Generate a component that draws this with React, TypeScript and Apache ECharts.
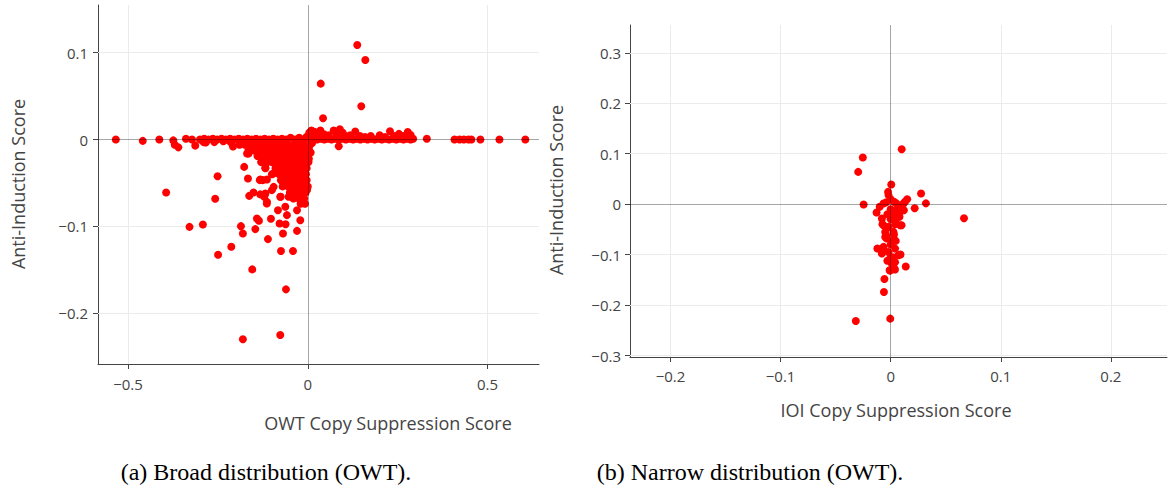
import React, { useEffect, useRef } from 'react';
import * as echarts from 'echarts';

// ---------- axis ticks / ranges ----------
const owtXTicks = [-0.5, 0, 0.5];
const owtYTicks = [-0.2, -0.1, 0, 0.1];
const ioiXTicks = [-0.2, -0.1, 0, 0.1, 0.2];
const ioiYTicks = [-0.3, -0.2, -0.1, 0, 0.1, 0.2, 0.3];
const owtXRange = [-0.5835, 0.643];
const owtYRange = [-0.2586, 0.155];
const ioiXRange = [-0.2368, 0.251];
const ioiYRange = [-0.3027, 0.355];

// ---------- OWT (left) points ----------
const owtBandLeft: number[][] = [
  [-0.534, 0], [-0.459, -0.0015], [-0.413, 0], [-0.374, -0.001], [-0.339, 0.001], [-0.322, 0],
  [-0.300, 0], [-0.288, 0.001], [-0.276, 0], [-0.264, 0.001], [-0.252, 0], [-0.240, 0.001],
  [-0.228, 0], [-0.216, 0.001], [-0.204, 0], [-0.192, 0.001], [-0.180, 0], [-0.168, 0.001],
  [-0.156, 0], [-0.144, 0.001], [-0.132, 0], [-0.120, 0.001], [-0.108, 0], [-0.096, 0.001],
  [-0.084, 0], [-0.072, 0.001], [-0.060, 0], [-0.048, 0.002], [-0.036, 0], [-0.024, 0.002],
  [-0.012, 0], [-0.004, 0.003],
  [-0.37, -0.006], [-0.36, -0.009], [-0.313, -0.007], [-0.29, -0.003], [-0.284, -0.0035],
  [-0.26, -0.003], [-0.235, -0.002], [-0.208, -0.008], [-0.215, -0.003],
];

const owtBandRight: number[][] = [
  [0.006, 0], [0.016, 0.001], [0.026, 0], [0.036, 0.001], [0.046, 0], [0.056, 0.001],
  [0.066, 0], [0.076, 0.001], [0.086, 0], [0.096, 0.001], [0.106, 0], [0.116, 0.001],
  [0.126, 0], [0.136, 0.001], [0.146, 0], [0.156, 0.001], [0.166, 0], [0.176, 0.001],
  [0.186, 0], [0.196, 0.001], [0.206, 0], [0.216, 0.001], [0.226, 0], [0.236, 0.001],
  [0.246, 0], [0.256, 0.001], [0.266, 0], [0.276, 0.001], [0.286, 0], [0.293, 0.001],
  [0.331, 0.001], [0.408, 0], [0.422, 0], [0.434, 0], [0.447, 0], [0.455, 0], [0.48, 0],
  [0.533, 0], [0.605, 0],
];

const owtRise: number[][] = [
  [0.004, 0.008], [0.01, 0.0105], [0.018, 0.009], [0.026, 0.007], [0.035, 0.0105], [0.045, 0.006],
  [0.058, 0.005], [0.072, 0.0105], [0.08, 0.006], [0.089, 0.0118], [0.097, 0.008], [0.105, 0.004],
  [0.118, 0.005], [0.132, 0.0092], [0.145, 0.004], [0.159, 0.003], [0.175, 0.004], [0.2, 0.005],
  [0.215, 0.003], [0.2286, 0.0095], [0.24, 0.004], [0.2535, 0.0065], [0.265, 0.004], [0.278, 0.0087],
  [0.286, 0.0052], [0.086, -0.0077], [0.012, -0.004], [0.004, -0.008], [0.008, -0.015],
  [0.003, -0.022], [0.002, 0.004],
  [0.1375, 0.109], [0.16, 0.0916], [0.036, 0.0644], [0.1487, 0.0383], [0.0424, 0.0245],
];

const owtWedge: number[][] = [
  [-0.19, -0.006], [-0.175, -0.006], [-0.16, -0.006], [-0.145, -0.006], [-0.13, -0.006], [-0.115, -0.006],
  [-0.1, -0.006], [-0.085, -0.006], [-0.07, -0.006], [-0.055, -0.006], [-0.04, -0.006], [-0.025, -0.006],
  [-0.01, -0.006],
  [-0.165, -0.012], [-0.15, -0.012], [-0.135, -0.012], [-0.12, -0.012], [-0.105, -0.012], [-0.09, -0.012],
  [-0.075, -0.012], [-0.06, -0.012], [-0.045, -0.012], [-0.03, -0.012], [-0.015, -0.012], [-0.002, -0.012],
  [-0.14, -0.019], [-0.125, -0.019], [-0.11, -0.019], [-0.095, -0.019], [-0.08, -0.019], [-0.065, -0.019],
  [-0.05, -0.019], [-0.035, -0.019], [-0.02, -0.019], [-0.005, -0.019],
  [-0.13, -0.026], [-0.112, -0.026], [-0.1, -0.026], [-0.085, -0.026], [-0.07, -0.026], [-0.055, -0.026],
  [-0.04, -0.026], [-0.025, -0.026], [-0.01, -0.026], [0.002, -0.026],
  [-0.118, -0.033], [-0.09, -0.033], [-0.075, -0.033], [-0.06, -0.033], [-0.045, -0.033], [-0.03, -0.033],
  [-0.015, -0.033], [-0.003, -0.033],
  [-0.1, -0.04], [-0.08, -0.04], [-0.065, -0.04], [-0.05, -0.04], [-0.035, -0.04], [-0.02, -0.04], [-0.005, -0.04],
  [-0.075, -0.047], [-0.06, -0.047], [-0.045, -0.047], [-0.03, -0.047], [-0.015, -0.047], [-0.003, -0.047],
  [-0.07, -0.054], [-0.055, -0.054], [-0.04, -0.054], [-0.025, -0.054], [-0.01, -0.054], [0, -0.054],
  [-0.05, -0.061], [-0.035, -0.061], [-0.02, -0.061], [-0.006, -0.061], [-0.002, -0.058],
  [-0.04, -0.068], [-0.025, -0.068], [-0.01, -0.068],
  [-0.02, -0.074], [-0.008, -0.074], [-0.014, -0.0698],
];

const owtScatter: number[][] = [
  [-0.394, -0.061], [-0.251, -0.0422], [-0.2575, -0.0683], [-0.329, -0.1006], [-0.2918, -0.0978],
  [-0.2495, -0.1328], [-0.2128, -0.1236], [-0.177, -0.0315], [-0.1665, -0.0449], [-0.163, -0.0649],
  [-0.151, -0.061], [-0.186, -0.0998], [-0.1805, -0.1082], [-0.146, -0.1032], [-0.1545, -0.1496],
  [-0.1805, -0.2301], [-0.0766, -0.2252], [-0.0607, -0.1726], [-0.0746, -0.1285], [-0.0412, -0.1285],
  [-0.1108, -0.1147], [-0.1414, -0.0909], [-0.1359, -0.0936], [-0.1025, -0.0913], [-0.0785, -0.0967],
  [-0.0618, -0.0975], [-0.069, -0.1082], [-0.083, -0.0814], [-0.0626, -0.0775], [-0.058, -0.0871],
  [-0.03, -0.1052], [-0.0209, -0.0929], [-0.03, -0.0814], [-0.016, -0.0698], [-0.114, -0.0737],
  [-0.121, -0.066], [-0.132, -0.0632], [-0.1136, -0.0718], [-0.1, -0.0583], [-0.125, -0.0468],
  [-0.1335, -0.0468], [-0.132, -0.046], [-0.1136, -0.046], [-0.118, -0.0326], [-0.0955, -0.0391],
  [-0.0755, -0.066], [-0.0534, -0.066], [-0.0766, -0.066], [-0.095, -0.0545], [-0.118, -0.0621],
  [-0.165, -0.0161], [-0.1346, -0.0184], [-0.12, -0.0203], [-0.1497, -0.0127], [-0.169, -0.0161],
];

// ---------- IOI (right) points ----------
const ioiOutliers: number[][] = [
  [0.01, 0.109], [-0.0253, 0.0926], [-0.0295, 0.064], [0.0005, 0.039], [-0.0024, 0.0244],
  [0.0276, 0.0212], [0.032, 0.0017], [-0.0246, -0.0006], [0.015, 0.0099], [0.0218, -0.0079],
  [0.0666, -0.0278], [-0.0128, -0.0165], [-0.0075, -0.0397], [0.0099, -0.0416], [0.0046, -0.0727],
  [-0.0121, -0.0879], [-0.0063, -0.0912], [0.0089, -0.0998], [0.0137, -0.1233], [-0.0005, -0.1316],
  [0.0039, -0.1292], [-0.0057, -0.1483], [-0.0061, -0.1738], [-0.0317, -0.2313], [-0.0004, -0.2267],
];

const ioiCluster: number[][] = [
  [0.0116, 0.0013], [-0.0065, 0.0013], [0.0071, -0.0053], [0.0086, -0.0152], [-0.008, -0.0284],
  [-0.0065, -0.0416], [0.0086, -0.0416], [-0.005, -0.0549], [0.0025, -0.0549], [-0.0035, -0.068],
  [0.0025, -0.0714], [-0.0065, -0.0846], [-0.008, -0.0978], [0.0071, -0.1011], [-0.0005, -0.1077],
  [0.001, -0.1176], [-0.001, -0.1309], [0.0032, -0.1275],
  [0, 0.01], [-0.002, 0.018], [0.003, 0.005], [-0.004, 0.004], [0.005, 0.002], [0, -0.01],
  [0.003, -0.02], [-0.003, -0.02], [0, -0.03], [0.005, -0.03], [-0.002, -0.045], [0.003, -0.06],
  [-0.004, -0.062], [0, -0.08], [0.004, -0.088], [-0.002, -0.095], [0.002, -0.105], [-0.003, -0.112],
  [0.004, -0.115], [0.006, -0.01], [0.01, -0.005], [0.013, 0.005], [-0.01, -0.005], [0.008, -0.025],
  [-0.005, -0.065], [0.004, -0.04], [-0.009, -0.09], [0.012, -0.012],
];

const fmt = (v: number) => (v < 0 ? '\u2212' + String(Math.abs(v)) : String(v));

const TICK = '#444';
const FONT = 'Open Sans';

function axis(gridIndex: number, range: number[], ticks: number[], margin: number) {
  return {
    type: 'value',
    gridIndex,
    min: range[0],
    max: range[1],
    axisLine: { show: true, onZero: false, lineStyle: { color: TICK, width: 1 } },
    axisTick: { show: true, length: 5, customValues: ticks, lineStyle: { color: TICK, width: 1 } },
    axisLabel: { customValues: ticks, formatter: fmt, color: TICK, fontSize: 15, fontFamily: FONT, margin },
    splitLine: { show: false },
  };
}

function gridSeries(idx: number, xt: number[], yt: number[]) {
  return {
    type: 'scatter',
    xAxisIndex: idx,
    yAxisIndex: idx,
    data: [],
    silent: true,
    z: 1,
    markLine: {
      z: 1,
      silent: true,
      symbol: ['none', 'none'],
      label: { show: false },
      lineStyle: { color: '#ebebeb', type: 'solid', width: 1 },
      data: [
        ...xt.filter((v) => v !== 0).map((v) => ({ xAxis: v })),
        ...yt.filter((v) => v !== 0).map((v) => ({ yAxis: v })),
      ],
    },
  };
}

function zeroSeries(idx: number) {
  return {
    type: 'scatter',
    xAxisIndex: idx,
    yAxisIndex: idx,
    data: [],
    silent: true,
    z: 5,
    markLine: {
      z: 6,
      silent: true,
      symbol: ['none', 'none'],
      label: { show: false },
      lineStyle: { color: 'rgba(0,0,0,0.35)', type: 'solid', width: 1 },
      data: [{ xAxis: 0 }, { yAxis: 0 }],
    },
  };
}

function dataSeries(idx: number, data: number[][]) {
  return {
    type: 'scatter',
    xAxisIndex: idx,
    yAxisIndex: idx,
    data,
    symbol: 'circle',
    symbolSize: 8,
    z: 3,
    itemStyle: { color: '#ff0000', opacity: 1 },
  };
}

const titleStyle = (text: string) => ({
  text,
  fill: '#444',
  fontSize: 18,
  fontFamily: FONT,
  align: 'center',
  verticalAlign: 'middle',
});

const capStyle = (text: string) => ({
  text,
  fill: '#000',
  fontSize: 24,
  fontFamily: 'Liberation Serif',
  align: 'center',
  verticalAlign: 'middle',
});

export default function App() {
  const ref = useRef<HTMLDivElement>(null);
  useEffect(() => {
    if (!ref.current) return;
    const chart = echarts.init(ref.current, null, { renderer: 'svg' });
    const owtAll = [...owtBandLeft, ...owtBandRight, ...owtRise, ...owtWedge, ...owtScatter];
    const ioiAll = [...ioiOutliers, ...ioiCluster];
    chart.setOption({
      animation: false,
      backgroundColor: '#fff',
      grid: [
        { left: 98, top: 5, width: 441, height: 359 },
        { left: 630, top: 25, width: 537, height: 332 },
      ],
      xAxis: [axis(0, owtXRange, owtXTicks, 12), axis(1, ioiXRange, ioiXTicks, 11)],
      yAxis: [axis(0, owtYRange, owtYTicks, 10), axis(1, ioiYRange, ioiYTicks, 9)],
      series: [
        gridSeries(0, owtXTicks, owtYTicks),
        gridSeries(1, ioiXTicks, ioiYTicks),
        dataSeries(0, owtAll),
        dataSeries(1, ioiAll),
        zeroSeries(0),
        zeroSeries(1),
      ],
      graphic: [
        { type: 'text', x: 388, y: 423, style: titleStyle('OWT Copy Suppression Score') },
        { type: 'text', x: 896, y: 410, style: titleStyle('IOI Copy Suppression Score') },
        { type: 'text', x: 18, y: 184, rotation: Math.PI / 2, style: titleStyle('Anti-Induction Score') },
        { type: 'text', x: 556, y: 190, rotation: Math.PI / 2, style: titleStyle('Anti-Induction Score') },
        { type: 'text', x: 266, y: 472, style: capStyle('(a) Broad distribution (OWT).') },
        { type: 'text', x: 750, y: 472, style: capStyle('(b) Narrow distribution (OWT).') },
      ],
    });
    return () => chart.dispose();
  }, []);
  return (
    <div
      ref={ref}
      style={{ position: 'absolute', left: 0, top: 0, width: 1172, height: 487, background: '#fff' }}
    />
  );
}
